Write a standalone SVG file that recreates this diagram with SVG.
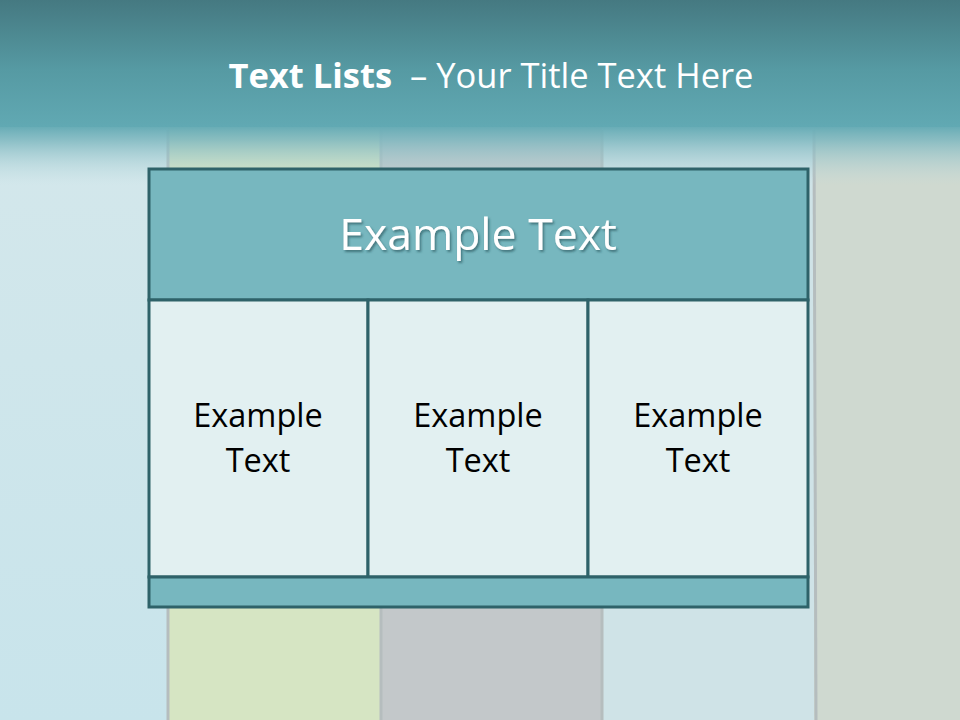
<svg xmlns="http://www.w3.org/2000/svg" width="960" height="720" viewBox="0 0 960 720">
<defs>
<linearGradient id="top" x1="0" y1="0" x2="0" y2="1">
<stop offset="0" stop-color="#457981"/>
<stop offset="0.55" stop-color="#569aa3"/>
<stop offset="1" stop-color="#61a9b3"/>
</linearGradient>
<linearGradient id="fade" x1="0" y1="0" x2="0" y2="1">
<stop offset="0" stop-color="#63aab4" stop-opacity="1"/>
<stop offset="0.25" stop-color="#7db7bf" stop-opacity="0.85"/>
<stop offset="1" stop-color="#b9d8dc" stop-opacity="0"/>
</linearGradient>
<linearGradient id="leftp" x1="0" y1="0" x2="0" y2="1">
<stop offset="0" stop-color="#d6e8eb"/>
<stop offset="1" stop-color="#c8e4eb"/>
</linearGradient>
<filter id="sh" x="-10%" y="-20%" width="120%" height="150%">
<feDropShadow dx="1.5" dy="2" stdDeviation="1.2" flood-color="#1d4a50" flood-opacity="0.6"/>
</filter>
<style>
.frame{stroke:#2e6269;stroke-width:3;}
.hd{fill:#77b7bf;}
.cell{fill:#e2f0f1;}
.ct{font-family:"Open Sans","Liberation Sans",sans-serif;font-size:32.5px;fill:#000;text-anchor:middle;}
.plank-sep{stroke:#b5bdbe;stroke-width:3;}
</style>
</defs>
<g id="background">
<rect x="0" y="0" width="960" height="720" fill="#cfe4e9"/>
<rect x="0" y="0" width="168" height="720" fill="url(#leftp)"/>
<rect x="168" y="0" width="212" height="720" fill="#d6e5c3"/>
<rect x="380" y="0" width="222" height="720" fill="#c3c8ca"/>
<rect x="602" y="0" width="212" height="720" fill="#cfe3e7"/>
<rect x="814" y="0" width="146" height="720" fill="#cfd9d0"/>
<line class="plank-sep" x1="168" y1="130" x2="168" y2="720"/>
<line class="plank-sep" x1="381" y1="130" x2="381" y2="720"/>
<line class="plank-sep" x1="602" y1="130" x2="602" y2="720"/>
<line class="plank-sep" x1="814" y1="130" x2="816" y2="720"/>
<rect x="0" y="125" width="960" height="60" fill="url(#fade)"/>
<rect x="0" y="0" width="960" height="127" fill="url(#top)"/>
</g>
<g id="title">
<text x="491" y="88" text-anchor="middle" xml:space="preserve" font-family="'Open Sans','Liberation Sans',sans-serif" font-size="34.5" fill="#ffffff"><tspan font-weight="bold">Text Lists</tspan>  – Your Title Text Here</text>
</g>
<g id="header">
<rect class="hd frame" x="149" y="169" width="659" height="131"/>
<text x="478" y="250" text-anchor="middle" font-family="'Open Sans','Liberation Sans',sans-serif" font-size="44.5" fill="#ffffff" filter="url(#sh)">Example Text</text>
</g>
<g id="cell1">
<rect class="cell frame" x="149" y="300" width="219" height="277"/>
<text class="ct" x="258" y="427">Example</text>
<text class="ct" x="258" y="472">Text</text>
</g>
<g id="cell2">
<rect class="cell frame" x="368" y="300" width="220" height="277"/>
<text class="ct" x="478" y="427">Example</text>
<text class="ct" x="478" y="472">Text</text>
</g>
<g id="cell3">
<rect class="cell frame" x="588" y="300" width="220" height="277"/>
<text class="ct" x="698" y="427">Example</text>
<text class="ct" x="698" y="472">Text</text>
</g>
<g id="footer">
<rect class="hd frame" x="149" y="577" width="659" height="30"/>
</g>
<g id="connectors"/>
</svg>
